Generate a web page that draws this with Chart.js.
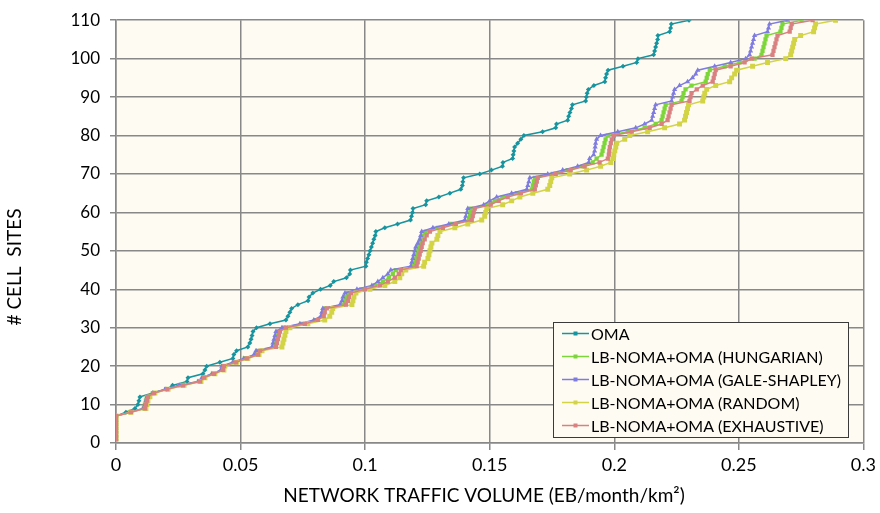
<!DOCTYPE html>
<html>
<head>
<meta charset="utf-8">
<script src="https://cdn.jsdelivr.net/npm/chart.js@4.4.1/dist/chart.umd.min.js"></script>
<style>
  html, body { margin: 0; padding: 0; background: #ffffff; }
  #wrap { width: 880px; height: 513px; }
</style>
</head>
<body>
<div id="wrap"><canvas id="trafficChart" width="880" height="513"></canvas></div>
<script>
// number of cell sites (y) reached at each traffic volume (x)
const siteCounts = [
  1, 2, 3, 4, 5, 6, 7, 8, 9, 10,
  11, 12, 13, 14, 15, 16, 17, 18, 19, 20,
  21, 22, 23, 24, 25, 26, 27, 28, 29, 30,
  31, 32, 33, 34, 35, 36, 37, 38, 39, 40,
  41, 42, 43, 44, 45, 46, 47, 48, 49, 50,
  51, 52, 53, 54, 55, 56, 57, 58, 59, 60,
  61, 62, 63, 64, 65, 66, 67, 68, 69, 70,
  71, 72, 73, 74, 75, 76, 77, 78, 79, 80,
  81, 82, 83, 84, 85, 86, 87, 88, 89, 90,
  91, 92, 93, 94, 95, 96, 97, 98, 99, 100,
  101, 102, 103, 104, 105, 106, 107, 108, 109, 110
];

const omaTraffic = [
  0, 0, 0, 0, 0, 0, 0, 0.0040, 0.0076, 0.0088,
  0.0092, 0.0096, 0.0148, 0.0203, 0.0227, 0.0285, 0.0289, 0.0349, 0.0357, 0.0364,
  0.0417, 0.0469, 0.0473, 0.0484, 0.0529, 0.0537, 0.0542, 0.0546, 0.0550, 0.0564,
  0.0618, 0.0682, 0.0690, 0.0698, 0.0705, 0.0730, 0.0771, 0.0775, 0.0790, 0.0821,
  0.0860, 0.0874, 0.0925, 0.0938, 0.0941, 0.1003, 0.1005, 0.1010, 0.1015, 0.1020,
  0.1025, 0.1030, 0.1035, 0.1040, 0.1043, 0.1079, 0.1130, 0.1182, 0.1186, 0.1190,
  0.1192, 0.1243, 0.1247, 0.1296, 0.1340, 0.1384, 0.1390, 0.1392, 0.1395, 0.1460,
  0.1507, 0.1551, 0.1553, 0.1592, 0.1594, 0.1597, 0.1600, 0.1612, 0.1625, 0.1637,
  0.1712, 0.1765, 0.1768, 0.1813, 0.1817, 0.1822, 0.1828, 0.1832, 0.1885, 0.1888,
  0.1891, 0.1896, 0.1918, 0.1962, 0.1965, 0.1969, 0.1975, 0.2035, 0.2090, 0.2095,
  0.2158, 0.2162, 0.2166, 0.2170, 0.2174, 0.2175, 0.2222, 0.2226, 0.2229, 0.2300
];

const hungarianTraffic = [
  0, 0, 0, 0, 0, 0, 0, 0.0056, 0.0112, 0.0116,
  0.0120, 0.0124, 0.0148, 0.0201, 0.0257, 0.0333, 0.0349, 0.0389, 0.0425, 0.0429,
  0.0473, 0.0517, 0.0562, 0.0570, 0.0634, 0.0638, 0.0642, 0.0646, 0.0650, 0.0674,
  0.0746, 0.0802, 0.0830, 0.0834, 0.0838, 0.0911, 0.0919, 0.0923, 0.0931, 0.0983,
  0.1039, 0.1071, 0.1095, 0.1111, 0.1123, 0.1195, 0.1199, 0.1203, 0.1207, 0.1211,
  0.1215, 0.1219, 0.1223, 0.1231, 0.1243, 0.1292, 0.1348, 0.1416, 0.1420, 0.1422,
  0.1424, 0.1492, 0.1520, 0.1552, 0.1609, 0.1669, 0.1673, 0.1677, 0.1681, 0.1753,
  0.1813, 0.1873, 0.1913, 0.1929, 0.1949, 0.1953, 0.1957, 0.1961, 0.1965, 0.1974,
  0.2054, 0.2122, 0.2166, 0.2190, 0.2194, 0.2198, 0.2202, 0.2206, 0.2270, 0.2274,
  0.2278, 0.2286, 0.2310, 0.2367, 0.2371, 0.2375, 0.2383, 0.2443, 0.2503, 0.2563,
  0.2591, 0.2595, 0.2599, 0.2603, 0.2607, 0.2611, 0.2667, 0.2671, 0.2675, 0.2752
];

const galeShapleyTraffic = [
  0, 0, 0, 0, 0, 0, 0, 0.0056, 0.0108, 0.0116,
  0.0120, 0.0124, 0.0148, 0.0197, 0.0253, 0.0329, 0.0345, 0.0385, 0.0421, 0.0425,
  0.0469, 0.0513, 0.0554, 0.0562, 0.0626, 0.0630, 0.0634, 0.0638, 0.0642, 0.0666,
  0.0738, 0.0794, 0.0822, 0.0826, 0.0830, 0.0899, 0.0907, 0.0911, 0.0919, 0.0967,
  0.1027, 0.1051, 0.1071, 0.1091, 0.1103, 0.1183, 0.1187, 0.1191, 0.1195, 0.1199,
  0.1203, 0.1211, 0.1219, 0.1223, 0.1227, 0.1272, 0.1336, 0.1400, 0.1404, 0.1408,
  0.1412, 0.1476, 0.1500, 0.1528, 0.1588, 0.1649, 0.1653, 0.1657, 0.1661, 0.1733,
  0.1793, 0.1853, 0.1897, 0.1901, 0.1917, 0.1921, 0.1923, 0.1925, 0.1929, 0.1945,
  0.2014, 0.2086, 0.2122, 0.2150, 0.2154, 0.2158, 0.2162, 0.2166, 0.2230, 0.2234,
  0.2238, 0.2242, 0.2262, 0.2294, 0.2314, 0.2327, 0.2335, 0.2403, 0.2467, 0.2527,
  0.2543, 0.2547, 0.2551, 0.2555, 0.2559, 0.2563, 0.2615, 0.2619, 0.2623, 0.2696
];

const randomTraffic = [
  0, 0, 0, 0, 0, 0, 0, 0.0060, 0.0120, 0.0124,
  0.0128, 0.0136, 0.0156, 0.0209, 0.0273, 0.0341, 0.0357, 0.0397, 0.0433, 0.0437,
  0.0485, 0.0529, 0.0574, 0.0586, 0.0666, 0.0670, 0.0674, 0.0678, 0.0682, 0.0698,
  0.0770, 0.0838, 0.0858, 0.0866, 0.0870, 0.0947, 0.0951, 0.0955, 0.0963, 0.1019,
  0.1079, 0.1119, 0.1139, 0.1147, 0.1163, 0.1235, 0.1239, 0.1252, 0.1256, 0.1260,
  0.1264, 0.1268, 0.1288, 0.1292, 0.1300, 0.1360, 0.1412, 0.1468, 0.1480, 0.1484,
  0.1488, 0.1552, 0.1588, 0.1621, 0.1673, 0.1733, 0.1741, 0.1745, 0.1749, 0.1821,
  0.1889, 0.1945, 0.1986, 0.1994, 0.1998, 0.2002, 0.2006, 0.2010, 0.2042, 0.2062,
  0.2134, 0.2202, 0.2262, 0.2282, 0.2286, 0.2290, 0.2294, 0.2298, 0.2355, 0.2359,
  0.2363, 0.2371, 0.2407, 0.2463, 0.2471, 0.2483, 0.2491, 0.2555, 0.2615, 0.2688,
  0.2708, 0.2712, 0.2716, 0.2720, 0.2724, 0.2748, 0.2800, 0.2804, 0.2808, 0.2888
];

const exhaustiveTraffic = [
  0, 0, 0, 0, 0, 0, 0, 0.0060, 0.0116, 0.0120,
  0.0124, 0.0128, 0.0152, 0.0205, 0.0269, 0.0337, 0.0353, 0.0393, 0.0429, 0.0433,
  0.0481, 0.0525, 0.0570, 0.0578, 0.0642, 0.0646, 0.0650, 0.0654, 0.0658, 0.0682,
  0.0758, 0.0810, 0.0834, 0.0838, 0.0846, 0.0923, 0.0931, 0.0935, 0.0943, 0.0999,
  0.1059, 0.1091, 0.1119, 0.1135, 0.1143, 0.1207, 0.1211, 0.1215, 0.1219, 0.1223,
  0.1227, 0.1231, 0.1239, 0.1247, 0.1260, 0.1312, 0.1364, 0.1428, 0.1432, 0.1436,
  0.1440, 0.1504, 0.1536, 0.1572, 0.1625, 0.1681, 0.1685, 0.1689, 0.1693, 0.1765,
  0.1825, 0.1881, 0.1941, 0.1974, 0.1978, 0.1980, 0.1982, 0.1986, 0.1990, 0.1998,
  0.2070, 0.2142, 0.2190, 0.2214, 0.2218, 0.2222, 0.2226, 0.2230, 0.2302, 0.2306,
  0.2310, 0.2331, 0.2355, 0.2395, 0.2399, 0.2403, 0.2407, 0.2467, 0.2523, 0.2551,
  0.2635, 0.2639, 0.2643, 0.2647, 0.2651, 0.2655, 0.2704, 0.2708, 0.2712, 0.2796
];

const seriesLabels = [
  'OMA',
  'LB-NOMA+OMA (HUNGARIAN)',
  'LB-NOMA+OMA (GALE-SHAPLEY)',
  'LB-NOMA+OMA (RANDOM)',
  'LB-NOMA+OMA (EXHAUSTIVE)'
];
const xTickLabels = ['0', '0.05', '0.1', '0.15', '0.2', '0.25', '0.3'];

const seriesTraffic = [omaTraffic, hungarianTraffic, galeShapleyTraffic, randomTraffic, exhaustiveTraffic];
const seriesStyles = [
  { color: '#16949f', point: 'rectRot', radius: 2.5, order: 5 },
  { color: '#7cd63a', point: 'rect', radius: 3, order: 4 },
  { color: '#7f7ce0', point: 'triangle', radius: 3, order: 3 },
  { color: '#d3d346', point: 'rect', radius: 3.5, order: 2 },
  { color: '#d98080', point: 'rect', radius: 3, order: 1 }
];

const GRID = '#888888';
const PLOT_BG = '#fefbf2';
const FONT = 'Lato, "Open Sans", sans-serif';

// cream fill behind the plot area only
const plotBackground = {
  id: 'plotBackground',
  beforeDraw(chart) {
    const { ctx, chartArea: a } = chart;
    ctx.save();
    ctx.fillStyle = PLOT_BG;
    ctx.fillRect(a.left, a.top, a.right - a.left, a.bottom - a.top);
    ctx.restore();
  }
};

// boxed legend sitting inside the plot, bottom right
const boxLegend = {
  id: 'boxLegend',
  afterDraw(chart) {
    const ctx = chart.ctx;
    const x0 = 553, y0 = 322, w = 295, h = 115;
    ctx.save();
    ctx.fillStyle = PLOT_BG;
    ctx.fillRect(x0, y0, w, h);
    ctx.strokeStyle = '#3a3a3a';
    ctx.lineWidth = 1;
    ctx.strokeRect(x0 + 0.5, y0 + 0.5, w, h);
    ctx.font = '16px ' + FONT;
    ctx.textBaseline = 'middle';
    ctx.textAlign = 'left';
    seriesLabels.forEach((label, i) => {
      const y = y0 + 11.5 + i * 23;
      const c = seriesStyles[i].color;
      ctx.strokeStyle = c;
      ctx.lineWidth = 1.5;
      ctx.beginPath();
      ctx.moveTo(x0 + 9, y);
      ctx.lineTo(x0 + 36, y);
      ctx.stroke();
      ctx.fillStyle = c;
      ctx.fillRect(x0 + 20.5, y - 2, 4, 4);
      ctx.fillStyle = '#000000';
      ctx.fillText(label, x0 + 38, y + 1);
    });
    ctx.restore();
  }
};

// axis titles placed where the original has them
const axisTitles = {
  id: 'axisTitles',
  afterDraw(chart) {
    const ctx = chart.ctx;
    ctx.save();
    ctx.fillStyle = '#000000';
    ctx.font = '19px ' + FONT;
    ctx.textAlign = 'center';
    ctx.textBaseline = 'middle';
    ctx.fillText('NETWORK TRAFFIC VOLUME (EB/month/km\u00B2)', 484, 496);
    ctx.translate(15, 267);
    ctx.rotate(-Math.PI / 2);
    ctx.fillText('# CELL  SITES', 0, 0);
    ctx.restore();
  }
};

const datasets = seriesLabels.map((label, s) => ({
  label,
  data: seriesTraffic[s].map((x, i) => ({ x, y: siteCounts[i] })),
  showLine: true,
  borderColor: seriesStyles[s].color,
  backgroundColor: seriesStyles[s].color,
  borderWidth: 1.5,
  pointStyle: seriesStyles[s].point,
  pointRadius: seriesStyles[s].radius,
  pointBorderWidth: 0,
  tension: 0,
  order: seriesStyles[s].order
}));

new Chart(document.getElementById('trafficChart'), {
  type: 'scatter',
  data: { datasets },
  options: {
    responsive: false,
    animation: false,
    layout: { padding: { top: 16, right: 16, left: 0, bottom: 0 } },
    plugins: { legend: { display: false }, tooltip: { enabled: false } },
    scales: {
      x: {
        type: 'linear',
        min: 0,
        max: 0.3,
        ticks: {
          stepSize: 0.05,
          autoSkip: false,
          maxRotation: 0,
          padding: 4,
          color: '#000000',
          font: { family: FONT, size: 18 },
          callback: (v, i) => xTickLabels[i]
        },
        grid: { color: GRID, lineWidth: 1.5, tickLength: 7 },
        border: { color: GRID, width: 1.5 },
        afterFit(scale) { scale.height = 70; }
      },
      y: {
        min: 0,
        max: 110,
        ticks: { stepSize: 10, padding: 10, color: '#000000', font: { family: FONT, size: 17 } },
        grid: { color: GRID, lineWidth: 1.5, tickLength: 6 },
        border: { color: GRID, width: 1.5 },
        afterFit(scale) { scale.width = 116; }
      }
    }
  },
  plugins: [plotBackground, boxLegend, axisTitles]
});
</script>
</body>
</html>
